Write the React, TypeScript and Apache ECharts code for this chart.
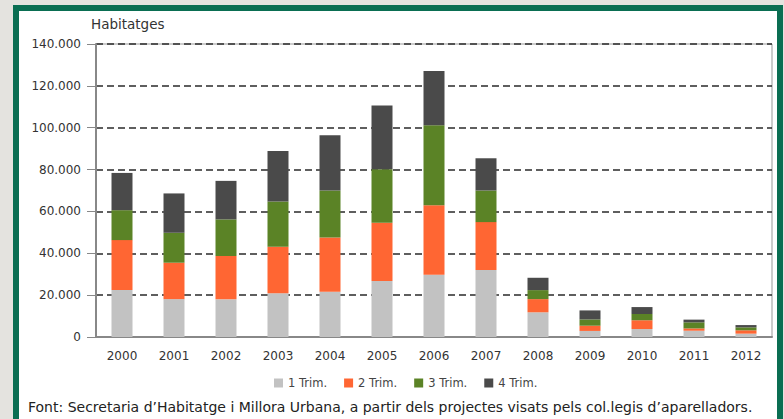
import React, { useEffect, useRef } from "react";
import * as echarts from "echarts";

const years = ["2000", "2001", "2002", "2003", "2004", "2005", "2006", "2007", "2008", "2009", "2010", "2011", "2012"];
const trim1 = [22400, 18100, 18000, 20900, 21600, 26700, 29700, 32000, 11800, 2900, 3800, 3000, 1600];
const trim2 = [23900, 17400, 20700, 22200, 26000, 27900, 33300, 22900, 6300, 2500, 4200, 1100, 1600];
const trim3 = [14300, 14300, 17500, 21700, 22400, 25600, 38200, 15100, 4300, 3000, 3000, 2900, 1400];
const trim4 = [17800, 18800, 18400, 24100, 26400, 30400, 25900, 15400, 5900, 4300, 3300, 1300, 1100];
const seriesNames = ["1 Trim.", "2 Trim.", "3 Trim.", "4 Trim."];
const seriesColors = ["#c2c2c2", "#ff6633", "#5b8326", "#4a4a4a"];
const yTitle = "Habitatges";
const footer = "Font: Secretaria d\u2019Habitatge i Millora Urbana, a partir dels projectes visats pels col.legis d\u2019aparelladors.";

const FONT = "DejaVu Sans";

function fmt(v: number): string {
  return String(Math.round(v)).replace(/\B(?=(\d{3})+(?!\d))/g, ".");
}

export default function App() {
  const ref = useRef<HTMLDivElement>(null);
  useEffect(() => {
    if (!ref.current) return;
    const chart = echarts.init(ref.current, null, { renderer: "svg" });
    const data = [trim1, trim2, trim3, trim4];
    chart.setOption({
      animation: false,
      textStyle: { fontFamily: FONT },
      title: [
        {
          text: yTitle,
          left: 91,
          top: 17,
          padding: 0,
          textStyle: { fontFamily: FONT, fontSize: 13.5, fontWeight: "normal", color: "#333" },
        },
        {
          text: footer,
          left: 28,
          top: 400,
          padding: 0,
          textStyle: { fontFamily: FONT, fontSize: 14, fontWeight: "normal", color: "#222" },
        },
      ],
      legend: {
        data: seriesNames,
        left: 274,
        top: 377,
        padding: 0,
        itemWidth: 9,
        itemHeight: 9,
        itemGap: 17,
        icon: "rect",
        textStyle: { fontFamily: FONT, fontSize: 11.5, color: "#444" },
      },
      grid: {
        left: 96,
        top: 44,
        right: 12,
        bottom: 82,
        show: true,
        borderColor: "#999",
        borderWidth: 1,
      },
      xAxis: {
        type: "category",
        data: years,
        axisLine: { lineStyle: { color: "#888", width: 2 } },
        axisTick: { show: false },
        axisLabel: { fontFamily: FONT, fontSize: 12, color: "#333", margin: 13 },
      },
      yAxis: {
        type: "value",
        min: 0,
        max: 140000,
        interval: 20000,
        axisLine: { show: true, lineStyle: { color: "#888", width: 2 } },
        axisTick: { show: true, length: 9, lineStyle: { color: "#888", width: 1 } },
        axisLabel: {
          fontFamily: FONT,
          fontSize: 12,
          color: "#333",
          margin: 15,
          formatter: (v: number) => fmt(v),
        },
        splitLine: { show: true, lineStyle: { color: "#2a2a2a", width: 1.5, type: [7, 4] } },
      },
      series: seriesNames.map((name, i) => ({
        name,
        type: "bar",
        stack: "total",
        barWidth: 21,
        data: data[i],
        itemStyle: { color: seriesColors[i] },
      })),
    });
    return () => chart.dispose();
  }, []);

  return (
    <div style={{ position: "fixed", left: 0, top: 0, width: 784, height: 419, background: "#e4e3df", overflow: "hidden" }}>
      <div
        style={{
          position: "absolute",
          left: 13,
          top: 5,
          width: 758,
          height: 500,
          border: "6px solid #0a6e52",
          background: "#fff",
        }}
      />
      <div ref={ref} style={{ position: "absolute", left: 0, top: 0, width: 784, height: 419 }} />
    </div>
  );
}
